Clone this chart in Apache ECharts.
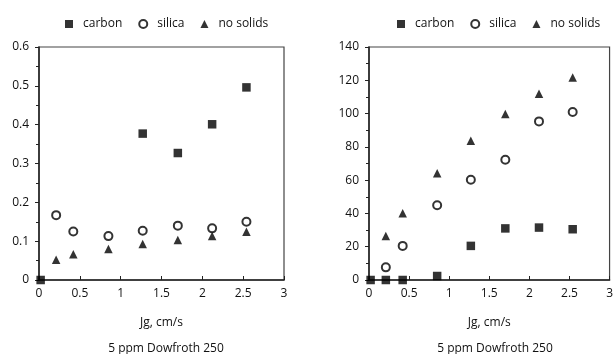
<!DOCTYPE html>
<html>
<head>
<meta charset="utf-8">
<script src="https://cdn.jsdelivr.net/npm/echarts@6/dist/echarts.min.js"></script>
<style>
  html, body { margin: 0; padding: 0; background: #fff; }
  #main { width: 616px; height: 354px; }
</style>
</head>
<body>
<div id="main"></div>
<script>
// Jg (cm/s) for each test
const jg = [0.21, 0.42, 0.85, 1.27, 1.70, 2.12, 2.54];
const jgCarbonLeft = [0.02, 1.27, 1.70, 2.12, 2.54];
const jgCarbonRight = [0.02, 0.21, 0.42, 0.85, 1.27, 1.70, 2.12, 2.54];

// left panel
const carbonLeft = [0.0, 0.377, 0.327, 0.401, 0.496];
const silicaLeft = [0.167, 0.125, 0.113, 0.127, 0.140, 0.133, 0.150];
const noSolidsLeft = [0.052, 0.066, 0.080, 0.093, 0.103, 0.113, 0.124];

// right panel
const carbonRight = [0, 0, 0, 2.4, 20.5, 31, 31.5, 30.5];
const silicaRight = [7.6, 20.5, 44.9, 60.2, 72.2, 95.3, 100.9];
const noSolidsRight = [26.5, 40.1, 64.2, 83.6, 99.7, 111.9, 121.7];

const seriesNames = ['carbon', 'silica', 'no solids'];
const xLabel = 'Jg, cm/s';
const caption = '5 ppm Dowfroth 250';

const font = 'Open Sans';
const txt = { fontFamily: font, fontSize: 12, color: '#111' };

const pair = (xs, ys) => xs.map((x, i) => [x, ys[i]]);

const chart = echarts.init(document.getElementById('main'));

function xAxis(gridIndex) {
  return {
    type: 'value', gridIndex, min: 0, max: 3, interval: 0.5,
    name: xLabel, nameLocation: 'middle', nameGap: 37,
    nameTextStyle: txt,
    axisLine: { lineStyle: { color: '#222', width: 1.5 } },
    axisTick: { inside: true, length: 4, lineStyle: { color: '#222' } },
    axisLabel: Object.assign({ margin: 8 }, txt),
    splitLine: { show: false }
  };
}

function yAxis(gridIndex, max, interval) {
  return {
    type: 'value', gridIndex, min: 0, max, interval,
    axisLine: { show: true, onZero: false, lineStyle: { color: '#222', width: 1.5 } },
    axisTick: { show: true, length: 4, lineStyle: { color: '#222' } },
    minorTick: { show: true, splitNumber: 2, length: 3, lineStyle: { color: '#222' } },
    axisLabel: Object.assign({ margin: 10 }, txt),
    splitLine: { show: false }
  };
}

function legend(left) {
  return {
    left, top: 13, itemWidth: 8, itemHeight: 8, itemGap: 16,
    textStyle: Object.assign({ padding: [0, 0, 0, 5] }, txt),
    data: [
      { name: 'carbon', icon: 'rect' },
      { name: 'silica', icon: 'emptyCircle', itemStyle: { borderWidth: 1 } },
      { name: 'no solids', icon: 'triangle' }
    ]
  };
}

function scatter(name, idx, data, symbol) {
  const hollow = symbol === 'emptyCircle';
  return {
    name, type: 'scatter', xAxisIndex: idx, yAxisIndex: idx,
    symbol, symbolSize: hollow ? 8 : 8.5, data,
    itemStyle: hollow
      ? { color: '#000', borderColor: '#000', borderWidth: 1 }
      : { color: '#000' },
    emphasis: { disabled: true }
  };
}

chart.setOption({
  animation: false,
  legend: [legend(60), legend(392)],
  title: [
    { text: caption, left: 161, top: 338, textAlign: 'center',
      textStyle: Object.assign({ fontWeight: 'normal' }, txt) },
    { text: caption, left: 490, top: 338, textAlign: 'center',
      textStyle: Object.assign({ fontWeight: 'normal' }, txt) }
  ],
  grid: [
    { left: 39, top: 47, width: 245, height: 233, show: true, borderColor: '#444', borderWidth: 1.2 },
    { left: 369, top: 47, width: 242, height: 233, show: true, borderColor: '#444', borderWidth: 1.2 }
  ],
  xAxis: [xAxis(0), xAxis(1)],
  yAxis: [yAxis(0, 0.6, 0.1), yAxis(1, 140, 20)],
  series: [
    scatter(seriesNames[0], 0, pair(jgCarbonLeft, carbonLeft), 'rect'),
    scatter(seriesNames[1], 0, pair(jg, silicaLeft), 'emptyCircle'),
    scatter(seriesNames[2], 0, pair(jg, noSolidsLeft), 'triangle'),
    scatter(seriesNames[0], 1, pair(jgCarbonRight, carbonRight), 'rect'),
    scatter(seriesNames[1], 1, pair(jg, silicaRight), 'emptyCircle'),
    scatter(seriesNames[2], 1, pair(jg, noSolidsRight), 'triangle')
  ]
});
</script>
</body>
</html>
